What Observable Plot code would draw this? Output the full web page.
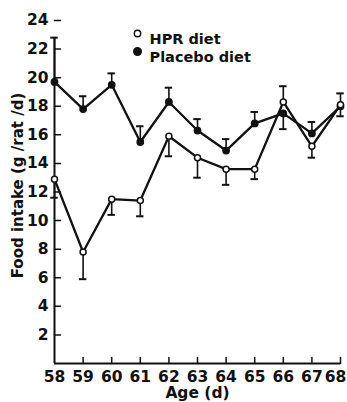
<!DOCTYPE html>
<html><head><meta charset="utf-8">
<script src="https://cdn.jsdelivr.net/npm/d3@7"></script>
<script src="https://cdn.jsdelivr.net/npm/@observablehq/plot@0.6"></script>
<style>body{margin:0;background:#fff} svg{display:block}</style>
</head><body><div id="chart"></div>
<script>
// Data
const ages = [58, 59, 60, 61, 62, 63, 64, 65, 66, 67, 68];
const hpr = [12.9, 7.8, 11.5, 11.4, 15.9, 14.4, 13.6, 13.6, 18.3, 15.2, 18.1];
const hprBarEnd = [11.6, 5.9, 10.4, 10.3, 14.5, 13.0, 12.5, 12.9, 19.4, 14.4, 17.3];
const placebo = [19.7, 17.8, 19.5, 15.5, 18.3, 16.3, 14.9, 16.8, 17.5, 16.1, 18.0];
const placeboBarEnd = [22.8, 18.7, 20.3, 16.6, 19.3, 17.1, 15.7, 17.6, 16.4, 16.9, 18.9];
const yTicks = [2, 4, 6, 8, 10, 12, 14, 16, 18, 20, 22, 24];
const seriesNames = ["HPR diet", "Placebo diet"];
const yLabel = "Food intake (g /rat /d)";
const xLabel = "Age (d)";

const rows = [];
ages.forEach((a, i) => {
  rows.push({age: a, series: seriesNames[0], v: hpr[i], e: hprBarEnd[i]});
  rows.push({age: a, series: seriesNames[1], v: placebo[i], e: placeboBarEnd[i]});
});
const fillFor = s => s === seriesNames[0] ? "white" : "#111";
const ink = "#111";
const tickShape = {draw(ctx, l) { ctx.moveTo(0, 0); ctx.lineTo(0, -l); }};

const legendMarks = seriesNames.flatMap((s, i) => [
  Plot.dot([s], {frameAnchor: "top-left", dx: 83, dy: 13 + i * 18, r: i === 0 ? 3.2 : 3.8,
    fill: fillFor(s), stroke: ink, strokeWidth: 1.4}),
  Plot.text([s], {frameAnchor: "top-left", dx: 95, dy: 13 + i * 18, text: d => d,
    textAnchor: "start", fill: ink, fontSize: 14.5})
]);

const chart = Plot.plot({
  width: 347, height: 402,
  marginLeft: 54, marginRight: 7, marginTop: 20, marginBottom: 39,
  x: {domain: [58, 68]},
  y: {domain: [0, 24]},
  style: {fontFamily: "'DejaVu Sans', sans-serif", fontSize: "15.5px", fontWeight: "bold", color: ink, background: "white"},
  marks: [
    Plot.ruleY([0], {stroke: ink, strokeWidth: 2}),
    Plot.ruleX([58], {stroke: ink, strokeWidth: 2, insetTop: 17}),
    // inward tick marks
    Plot.vector(ages.slice(1), {x: d => d, frameAnchor: "bottom", length: 6, rotate: 0, anchor: "start", shape: tickShape, stroke: ink, strokeWidth: 1.5}),
    Plot.vector(yTicks, {y: d => d, frameAnchor: "left", length: 6, rotate: 90, anchor: "start", shape: tickShape, stroke: ink, strokeWidth: 1.5}),
    // tick labels
    Plot.axisX({ticks: ages.slice(0, -1), tickSize: 0, tickPadding: 7, label: null, tickFormat: d => String(d), fill: ink}),
    Plot.axisX({ticks: ages.slice(-1), tickSize: 0, tickPadding: 7, dx: -5, label: null, tickFormat: d => String(d), fill: ink}),
    Plot.axisY({ticks: yTicks, tickSize: 0, tickPadding: 6, label: null, tickFormat: d => String(d), fill: ink}),
    // error bars
    Plot.ruleX(rows, {x: "age", y1: "v", y2: "e", stroke: ink, strokeWidth: 1.6}),
    Plot.ruleY(rows, {y: "e", x1: d => d.age - 0.13, x2: d => d.age + 0.13, stroke: ink, strokeWidth: 2}),
    // series
    Plot.line(rows, {x: "age", y: "v", z: "series", stroke: ink, strokeWidth: 2.3}),
    Plot.dot(rows, {x: "age", y: "v", r: d => d.series === seriesNames[0] ? 4 : 4.4, fill: d => fillFor(d.series), stroke: ink, strokeWidth: 1.5}),
    ...legendMarks,
    Plot.text([yLabel], {frameAnchor: "left", textAnchor: "middle", lineAnchor: "middle", dx: -36, dy: -6.5, rotate: -90, text: d => d, fill: ink, fontSize: 15}),
    Plot.text([xLabel], {frameAnchor: "bottom", textAnchor: "middle", lineAnchor: "middle", dy: 30, text: d => d, fill: ink, fontSize: 15.5})
  ]
});
document.getElementById("chart").appendChild(chart);
</script>
</body></html>
